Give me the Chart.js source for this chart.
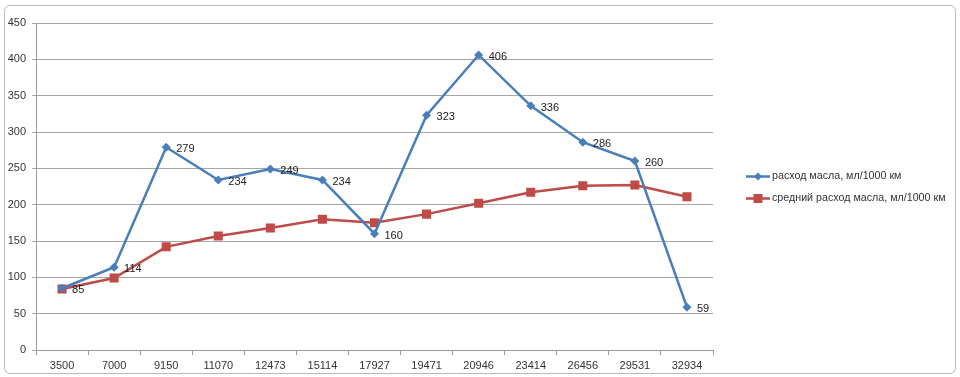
<!DOCTYPE html>
<html>
<head>
<meta charset="utf-8">
<script src="https://cdn.jsdelivr.net/npm/chart.js@4/dist/chart.umd.min.js"></script>
<style>
  body { margin: 0; background: #fff; }
  #wrap { position: relative; width: 960px; height: 377px; }
  #frame { position: absolute; left: 4px; top: 5px; width: 950px; height: 367px;
           border: 1px solid #b9b9b9; border-radius: 6px; }
  canvas { position: absolute; left: 0; top: 0; }
</style>
</head>
<body>
<div id="wrap">
  <div id="frame"></div>
  <canvas id="oilChart" width="960" height="377"></canvas>
</div>
<script>
const mileage = ["3500", "7000", "9150", "11070", "12473", "15114", "17927", "19471", "20946", "23414", "26456", "29531", "32934"];
const oilUse = [85, 114, 279, 234, 249, 234, 160, 323, 406, 336, 286, 260, 59];
const oilAvg = [84, 99, 142, 157, 168, 180, 175, 187, 202, 217, 226, 227, 211];
const seriesNames = ["расход масла, мл/1000 км", "средний расход масла, мл/1000 км"];
const yTicks = [0, 50, 100, 150, 200, 250, 300, 350, 400, 450];

const BLUE = "#4a7ebb";
const RED = "#be4b48";
const FONT = "'Liberation Sans', Arial, sans-serif";

// labels next to the blue points
const valueLabels = {
    id: "valueLabels",
    afterDatasetsDraw(chart) {
        const ctx = chart.ctx;
        const meta = chart.getDatasetMeta(0);
        ctx.save();
        ctx.font = "11px " + FONT;
        ctx.fillStyle = "#222";
        ctx.textBaseline = "middle";
        ctx.textAlign = "left";
        meta.data.forEach((pt, i) => {
            ctx.fillText(String(oilUse[i]), pt.x + 10, pt.y + 2);
        });
        ctx.restore();
    }
};

// Excel-like legend on the right (line + marker)
const sideLegend = {
    id: "sideLegend",
    afterDraw(chart) {
        const ctx = chart.ctx;
        const x0 = chart.chartArea.right + 33;
        const yMid = (chart.chartArea.top + chart.chartArea.bottom) / 2;
        const rows = [
            { name: seriesNames[0], color: BLUE, shape: "diamond", y: yMid - 10 },
            { name: seriesNames[1], color: RED, shape: "square", y: yMid + 12 }
        ];
        ctx.save();
        rows.forEach(r => {
            ctx.strokeStyle = r.color;
            ctx.lineWidth = 2.5;
            ctx.beginPath();
            ctx.moveTo(x0, r.y);
            ctx.lineTo(x0 + 24, r.y);
            ctx.stroke();
            ctx.fillStyle = r.color;
            const cx = x0 + 12;
            ctx.beginPath();
            if (r.shape === "diamond") {
                ctx.moveTo(cx - 4, r.y);
                ctx.lineTo(cx, r.y - 4);
                ctx.lineTo(cx + 4, r.y);
                ctx.lineTo(cx, r.y + 4);
                ctx.closePath();
            } else {
                ctx.rect(cx - 4.5, r.y - 4.5, 9, 9);
            }
            ctx.fill();
            ctx.font = "10.7px " + FONT;
            ctx.fillStyle = "#333";
            ctx.textBaseline = "middle";
            ctx.fillText(r.name, x0 + 26, r.y);
        });
        ctx.restore();
    }
};

const ctx = document.getElementById("oilChart").getContext("2d");
new Chart(ctx, {
    type: "line",
    data: {
        labels: mileage,
        datasets: [{
            label: seriesNames[0],
            data: oilUse,
            borderColor: BLUE,
            backgroundColor: BLUE,
            borderWidth: 2.5,
            pointStyle: "rectRot",
            pointRadius: 4.5,
            pointBorderWidth: 0,
            tension: 0,
            fill: false
        }, {
            label: seriesNames[1],
            data: oilAvg,
            borderColor: RED,
            backgroundColor: RED,
            borderWidth: 2.5,
            pointStyle: "rect",
            pointRadius: 6.4,
            pointBorderWidth: 0,
            tension: 0,
            fill: false
        }]
    },
    options: {
        responsive: false,
        animation: false,
        layout: { padding: { top: 23, right: 247, left: 0, bottom: 0 } },
        plugins: {
            legend: { display: false },
            tooltip: { enabled: false }
        },
        scales: {
            x: {
                offset: true,
                grid: {
                    offset: true,
                    drawOnChartArea: false,
                    color: "#9a9a9a",
                    tickLength: 5
                },
                border: { color: "#9a9a9a" },
                ticks: {
                    color: "#333",
                    font: { family: FONT, size: 11 },
                    maxRotation: 0,
                    autoSkip: false,
                    padding: 4
                },
                afterFit(scale) { scale.height = 27; }
            },
            y: {
                min: 0,
                max: 450,
                afterBuildTicks(scale) { scale.ticks = yTicks.map(v => ({ value: v })); },
                grid: {
                    color: "#a6a6a6",
                    tickLength: 4
                },
                border: { color: "#9a9a9a" },
                ticks: {
                    color: "#333",
                    font: { family: FONT, size: 11 },
                    padding: 6
                },
                afterFit(scale) { scale.width = 36; }
            }
        }
    },
    plugins: [valueLabels, sideLegend]
});
</script>
</body>
</html>
